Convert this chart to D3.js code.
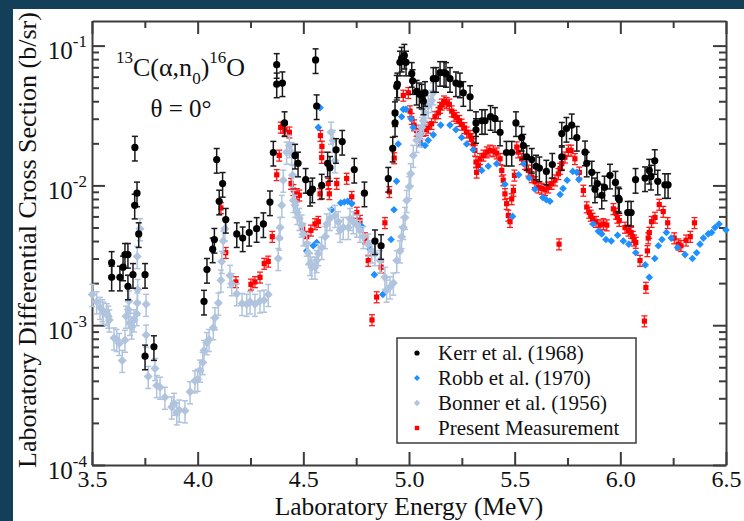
<!DOCTYPE html>
<html>
<head>
<meta charset="utf-8">
<script src="https://cdn.jsdelivr.net/npm/d3@7"></script>
<style>
  html, body { margin: 0; padding: 0; background: #133f58; }
  svg { display: block; }
</style>
</head>
<body>
<svg id="chart" width="744" height="521"></svg>
<script>
// ---- data: [energy (MeV), cross section (b/sr)] ----
const kerrPoints = [[3.593,2.8e-3],[3.593,2.2e-3],[3.632,2.2e-3],[3.647,2.6e-3],[3.656,3.2e-3],[3.670,3.2e-3],[3.670,1.9e-3],[3.694,2.3e-3],[3.702,7.2e-3],[3.703,1.87e-2],
[3.713,8.8e-3],[3.721,4.5e-3],[3.751,2.3e-3],[3.751,6.0e-4],[3.793,7.0e-4],[4.030,1.48e-3],[4.044,2.5e-3],[4.071,3.5e-3],[4.079,4.1e-3],[4.090,1.53e-2],
[4.102,7.7e-3],[4.118,1.03e-2],[4.133,5.7e-3],[4.185,4.5e-3],[4.213,4.2e-3],[4.244,4.6e-3],[4.279,4.9e-3],[4.311,5.3e-3],[4.342,7.6e-3],[4.358,1.72e-2],
[4.374,7.3e-2],[4.374,5.3e-2],[4.401,5.4e-2],[4.411,2.8e-2],[4.461,1.64e-2],[4.475,1.44e-2],[4.511,1.1e-2],[4.532,8.9e-3],[4.543,9.4e-3],[4.558,7.9e-2],
[4.563,3.7e-2],[4.587,1.0e-2],[4.615,1.44e-2],[4.626,1.34e-2],[4.655,1.8e-2],[4.684,2.06e-2],[4.741,1.3e-2],[4.789,8.8e-3],[4.839,4.0e-3],[4.868,3.7e-3],
[4.902,1.12e-2],[4.923,1.84e-2],[4.934,2.8e-2],[4.934,3.3e-2],[4.942,5.1e-2],[4.945,5.3e-2],[4.957,7.6e-2],[4.965,8.1e-2],[4.978,8.5e-2],[4.986,7.6e-2],
[5.013,6.3e-2],[5.017,5.6e-2],[5.036,4.7e-2],[5.049,4.5e-2],[5.060,4.4e-2],[5.068,4.0e-2],[5.076,4.6e-2],[5.115,5.8e-2],[5.128,5.8e-2],[5.147,6.4e-2],
[5.166,6.4e-2],[5.175,6.3e-2],[5.194,5.8e-2],[5.222,5.4e-2],[5.241,5.3e-2],[5.257,4.6e-2],[5.289,4.3e-2],[5.317,2.8e-2],[5.317,2.5e-2],[5.345,2.9e-2],
[5.360,2.9e-2],[5.386,3.1e-2],[5.407,3.0e-2],[5.431,2.4e-2],[5.461,1.72e-2],[5.486,1.72e-2],[5.506,2.8e-2],[5.533,2.2e-2],[5.541,1.93e-2],[5.557,1.6e-2],
[5.581,1.53e-2],[5.601,1.37e-2],[5.617,1.33e-2],[5.650,1.26e-2],[5.678,1.41e-2],[5.723,2.35e-2],[5.723,1.6e-2],[5.745,2.55e-2],[5.770,2.7e-2],[5.794,2.2e-2],
[5.833,1.73e-2],[5.841,1.44e-2],[5.865,1.24e-2],[5.880,9.4e-3],[5.891,1.03e-2],[5.912,8.5e-3],[5.925,9.7e-3],[5.951,1.18e-2],[5.977,1.05e-2],[5.991,8.1e-3],
[5.995,7.9e-3],[6.035,6.4e-3],[6.051,6.4e-3],[6.072,1.1e-2],[6.117,1.13e-2],[6.137,1.28e-2],[6.145,1.16e-2],[6.163,1.5e-2],[6.177,1.07e-2],[6.211,1.01e-2],[6.226,1.01e-2]];

const robbPoints = [[4.516,3.4e-3],[4.547,3.7e-3],[4.563,3.9e-3],[4.571,2.6e-2],[4.579,3.6e-2],[4.634,6.7e-3],[4.677,7.5e-3],[4.694,7.6e-3],[4.710,7.7e-3],[4.729,7.4e-3],
[4.776,5.1e-3],[4.815,3.5e-3],[4.836,2.3e-3],[4.876,1.66e-3],[4.915,4.1e-3],[4.929,6.7e-3],[4.941,1.07e-2],[4.949,1.98e-2],[4.965,3.1e-2],[4.973,3.5e-2],
[4.986,3.5e-2],[5.010,3.0e-2],[5.020,2.6e-2],[5.060,1.96e-2],[5.076,1.93e-2],[5.091,2.1e-2],[5.115,2.3e-2],[5.150,2.7e-2],[5.194,2.7e-2],[5.222,2.5e-2],
[5.249,2.2e-2],[5.273,1.98e-2],[5.304,1.8e-2],[5.344,1.28e-2],[5.375,1.37e-2],[5.415,1.43e-2],[5.454,1.02e-2],[5.490,6.0e-3],[5.519,1.19e-2],[5.543,1.43e-2],
[5.569,1.13e-2],[5.596,9.4e-3],[5.633,8.2e-3],[5.650,7.9e-3],[5.667,7.7e-3],[5.715,8.6e-3],[5.729,9.5e-3],[5.748,1.09e-2],[5.775,1.26e-2],[5.794,1.24e-2],
[5.804,1.1e-2],[5.871,5.3e-3],[5.896,4.7e-3],[5.912,4.5e-3],[5.932,4.1e-3],[5.957,4.0e-3],[5.987,4.4e-3],[6.014,4.0e-3],[6.040,3.8e-3],[6.073,3.3e-3],
[6.118,2.7e-3],[6.137,2.2e-3],[6.163,3.0e-3],[6.180,3.7e-3],[6.197,4.1e-3],[6.218,4.6e-3],[6.241,4.2e-3],[6.271,3.6e-3],[6.306,3.2e-3],[6.341,3.0e-3],
[6.361,3.3e-3],[6.377,3.8e-3],[6.393,4.2e-3],[6.416,4.5e-3],[6.432,4.6e-3],[6.448,5.0e-3],[6.467,5.3e-3],[6.500,4.8e-3]];

const bonnerPoints = [[3.501,1.66e-3],[3.522,1.47e-3],[3.538,1.34e-3],[3.549,1.29e-3],[3.553,1.24e-3],[3.570,1.21e-3],[3.577,1.16e-3],[3.582,1.09e-3],[3.604,8.1e-4],[3.617,7.9e-4],
[3.629,7.4e-4],[3.643,5.6e-4],[3.656,7.8e-4],[3.661,1.16e-3],[3.672,1.29e-3],[3.675,1.49e-3],[3.680,1.03e-3],[3.688,9.7e-4],[3.699,1.09e-3],[3.712,1.21e-3],
[3.714,1.44e-3],[3.716,1.8e-3],[3.714,3.1e-3],[3.727,4.9e-3],[3.756,1.41e-3],[3.756,8.5e-4],[3.766,4.3e-4],[3.798,4.9e-4],[3.806,3.7e-4],[3.822,3.6e-4],
[3.845,3.05e-4],[3.877,2.6e-4],[3.888,2.76e-4],[3.901,2.36e-4],[3.913,2.47e-4],[3.940,2.44e-4],[3.964,3.34e-4],[3.987,4.0e-4],[4.000,4.1e-4],[4.011,4.77e-4],
[4.024,5.4e-4],[4.030,6.6e-4],[4.043,7.5e-4],[4.054,7.9e-4],[4.074,9.6e-4],[4.082,1.13e-3],[4.098,1.44e-3],[4.110,2.1e-3],[4.114,2.86e-3],[4.121,4.0e-3],
[4.129,4.9e-3],[4.153,2.27e-3],[4.161,1.98e-3],[4.185,1.68e-3],[4.210,1.43e-3],[4.232,1.41e-3],[4.248,1.47e-3],[4.271,1.41e-3],[4.295,1.49e-3],[4.314,1.51e-3],
[4.334,1.66e-3],[4.381,3.0e-3],[4.386,4.2e-3],[4.390,5.0e-3],[4.398,7.2e-3],[4.405,1.09e-2],[4.421,1.73e-2],[4.434,1.93e-2],[4.445,1.72e-2],[4.449,1.18e-2],
[4.453,7.8e-3],[4.461,7.2e-3],[4.471,6.4e-3],[4.481,5.8e-3],[4.492,5.2e-3],[4.500,4.5e-3],[4.516,3.8e-3],[4.523,3.3e-3],[4.532,2.76e-3],[4.540,2.6e-3],
[4.555,2.6e-3],[4.563,2.9e-3],[4.571,3.25e-3],[4.587,3.6e-3],[4.603,4.3e-3],[4.611,5.3e-3],[4.626,5.8e-3],[4.631,2.4e-2],[4.640,2.1e-2],[4.650,1.5e-2],
[4.650,6.1e-3],[4.665,5.5e-3],[4.674,4.77e-3],[4.689,5.0e-3],[4.713,5.0e-3],[4.721,5.8e-3],[4.736,5.5e-3],[4.753,5.2e-3],[4.768,4.77e-3],[4.784,4.3e-3],
[4.807,3.8e-3],[4.824,3.4e-3],[4.839,3.25e-3],[4.863,2.9e-3],[4.886,2.2e-3],[4.894,1.78e-3],[4.910,1.88e-3],[4.926,2.0e-3],[4.942,2.9e-3],[4.957,3.4e-3],
[4.965,4.3e-3],[4.973,5.0e-3],[4.981,5.9e-3],[4.989,7.8e-3],[5.001,9.8e-3],[5.008,1.21e-2],[5.020,1.64e-2],[5.036,2.1e-2],[5.052,2.3e-2],[5.060,2.6e-2],
[5.068,2.9e-2],[5.076,3.3e-2],[5.091,3.7e-2],[5.107,4.05e-2],[5.115,4.6e-2]];

const presentPoints = [[4.110,6.9e-3],[4.133,3.3e-3],[4.181,2.04e-3],[4.252,1.96e-3],[4.271,2.04e-3],[4.295,2.2e-3],[4.315,2.76e-3],[4.334,2.86e-3],[4.353,4.3e-3],[4.374,1.19e-2],
[4.386,1.64e-2],[4.393,2.6e-2],[4.404,2.6e-2],[4.413,2.5e-2],[4.434,2.4e-2],[4.442,1.03e-2],[4.453,9.3e-3],[4.469,8.7e-3],[4.481,8.5e-3],[4.497,4.9e-3],
[4.516,4.3e-3],[4.536,4.77e-3],[4.555,5.3e-3],[4.571,5.5e-3],[4.579,8.7e-3],[4.581,2.27e-2],[4.588,1.9e-2],[4.587,1.58e-2],[4.618,1.03e-2],[4.623,8.7e-3],
[4.658,1.03e-2],[4.705,1.12e-2],[4.729,8.3e-3],[4.753,6.4e-3],[4.768,5.6e-3],[4.792,4.2e-3],[4.807,2.9e-3],[4.825,1.09e-3],[4.847,1.59e-3],[4.868,2.6e-3],
[4.886,5.4e-3],[4.907,9.0e-3],[4.930,1.57e-2],[4.973,4.4e-2],[4.997,4.6e-2],[5.005,3.4e-2],[5.013,3.0e-2],[5.024,2.7e-2],[5.036,2.47e-2],[5.044,2.27e-2],
[5.052,2.1e-2],[5.068,2.47e-2],[5.080,2.5e-2],[5.091,2.6e-2],[5.107,2.76e-2],[5.123,3.1e-2],[5.139,3.3e-2],[5.147,3.6e-2],[5.155,3.8e-2],[5.166,4.0e-2],
[5.178,3.9e-2],[5.191,3.8e-2],[5.202,3.4e-2],[5.213,3.16e-2],[5.226,3.05e-2],[5.238,2.9e-2],[5.249,2.73e-2],[5.262,2.58e-2],[5.273,2.4e-2],[5.289,2.27e-2],
[5.297,2.15e-2],[5.304,1.98e-2],[5.312,1.78e-2],[5.317,1.47e-2],[5.320,1.24e-2],[5.328,1.39e-2],[5.336,1.55e-2],[5.352,1.64e-2],[5.368,1.73e-2],[5.383,1.78e-2],
[5.399,1.76e-2],[5.415,1.7e-2],[5.431,1.55e-2],[5.439,1.28e-2],[5.446,1.09e-2],[5.454,8.7e-3],[5.462,7.4e-3],[5.470,6.1e-3],[5.478,5.5e-3],[5.486,8.0e-3],
[5.494,9.2e-3],[5.499,1.18e-2],[5.510,1.88e-2],[5.517,1.73e-2],[5.533,1.55e-2],[5.549,1.43e-2],[5.565,1.28e-2],[5.581,1.15e-2],[5.596,1.06e-2],[5.612,9.7e-3],
[5.628,9.5e-3],[5.644,9.3e-3],[5.659,9.7e-3],[5.675,1.03e-2],[5.691,1.09e-2],[5.707,1.21e-2],[5.710,3.8e-3],[5.715,1.32e-2],[5.723,1.43e-2],[5.738,1.59e-2],
[5.754,1.78e-2],[5.767,1.78e-2],[5.785,1.55e-2],[5.806,1.24e-2],[5.825,9.2e-3],[5.841,7.0e-3],[5.853,6.4e-3],[5.860,6.1e-3],[5.869,5.8e-3],[5.885,5.5e-3],
[5.904,5.2e-3],[5.920,5.3e-3],[5.936,5.2e-3],[5.967,6.8e-3],[5.980,6.3e-3],[5.986,5.9e-3],[5.995,5.6e-3],[6.022,5.0e-3],[6.038,4.77e-3],[6.051,4.6e-3],
[6.059,4.3e-3],[6.065,4.05e-3],[6.073,3.9e-3],[6.093,2.9e-3],[6.114,1.07e-3],[6.121,1.86e-3],[6.128,3.4e-3],[6.132,4.2e-3],[6.137,4.6e-3],[6.148,5.5e-3],
[6.164,5.9e-3],[6.184,7.3e-3],[6.203,6.5e-3],[6.224,5.4e-3],[6.255,4.2e-3],[6.274,3.8e-3],[6.287,3.7e-3],[6.311,4.05e-3],[6.331,4.3e-3],[6.351,5.4e-3]];

// fractional uncertainties shown as error bars
const kerrRelErr = 0.2;
const bonnerRelErr = 0.18;
const presentRelErr = 0.09;

const seriesNames = ["Kerr et al. (1968)", "Robb et al. (1970)", "Bonner et al. (1956)", "Present Measurement"];

// axis ticks
const xMajorTicks = [3.5, 4.0, 4.5, 5.0, 5.5, 6.0, 6.5];
const xTickLabels = ["3.5", "4.0", "4.5", "5.0", "5.5", "6.0", "6.5"];
const xMinorTicks = [3.75, 4.25, 4.75, 5.25, 5.75, 6.25];
const yDecadeExponents = [-4, -3, -2, -1];

// ---- layout ----
const W = 744, H = 521;
const plot = { left: 92, right: 726, top: 21, bottom: 465 };
const serif = "'Liberation Serif', 'Times New Roman', Times, serif";
const axisColor = "#3c3c3c";

const svg = d3.select("#chart");

// slide backdrop and white panel
svg.append("rect").attr("width", W).attr("height", H).attr("fill", "#133f58");
svg.append("rect").attr("x", 13).attr("y", 9).attr("width", W - 13).attr("height", H - 9).attr("fill", "#ffffff");

const x = d3.scaleLinear().domain([3.5, 6.5]).range([plot.left, plot.right]);
const y = d3.scaleLog().domain([1e-4, 0.15]).range([plot.bottom, plot.top]);

const yMajorTicks = yDecadeExponents.map(e => Math.pow(10, e));
const yMinorTicks = [];
yDecadeExponents.forEach(e => {
  for (let m = 2; m <= 9; m++) {
    const v = m * Math.pow(10, e);
    if (v < y.domain()[1]) yMinorTicks.push(v);
  }
});

function styleAxis(g, keepDomain) {
  g.selectAll("line").attr("stroke", axisColor).attr("stroke-width", 2);
  if (keepDomain) g.select(".domain").attr("stroke", axisColor).attr("stroke-width", 2);
  else g.select(".domain").remove();
}

// bottom axis with labels
const gBottom = svg.append("g").attr("transform", `translate(0,${plot.bottom})`)
  .call(d3.axisBottom(x).tickValues(xMajorTicks).tickSizeInner(-13).tickSizeOuter(0)
    .tickPadding(5).tickFormat((d, i) => xTickLabels[i]));
styleAxis(gBottom, true);
gBottom.selectAll("text").attr("font-family", serif).attr("font-size", 24).attr("fill", "#111");

svg.append("g").attr("transform", `translate(0,${plot.bottom})`)
  .call(d3.axisBottom(x).tickValues(xMinorTicks).tickSize(-7).tickFormat(""))
  .call(g => styleAxis(g, false));

// top axis (ticks only)
svg.append("g").attr("transform", `translate(0,${plot.top})`)
  .call(d3.axisTop(x).tickValues(xMajorTicks).tickSizeInner(-13).tickSizeOuter(0).tickFormat(""))
  .call(g => styleAxis(g, true));
svg.append("g").attr("transform", `translate(0,${plot.top})`)
  .call(d3.axisTop(x).tickValues(xMinorTicks).tickSize(-7).tickFormat(""))
  .call(g => styleAxis(g, false));

// left axis with power-of-ten labels
const gLeft = svg.append("g").attr("transform", `translate(${plot.left},0)`)
  .call(d3.axisLeft(y).tickValues(yMajorTicks).tickSizeInner(-13).tickSizeOuter(0).tickFormat(""));
styleAxis(gLeft, true);
gLeft.selectAll(".tick").each(function (d, i) {
  const t = d3.select(this).select("text");
  t.text(null).attr("x", -5).attr("dy", null).attr("y", 13)
    .attr("text-anchor", "end").attr("font-family", serif).attr("fill", "#111");
  t.append("tspan").attr("font-size", 25).text("10");
  t.append("tspan").attr("font-size", 17).attr("dy", -12).text(String(yDecadeExponents[i]));
});
svg.append("g").attr("transform", `translate(${plot.left},0)`)
  .call(d3.axisLeft(y).tickValues(yMinorTicks).tickSize(-7).tickFormat(""))
  .call(g => styleAxis(g, false));

// right axis (ticks only)
svg.append("g").attr("transform", `translate(${plot.right},0)`)
  .call(d3.axisRight(y).tickValues(yMajorTicks).tickSizeInner(-13).tickSizeOuter(0).tickFormat(""))
  .call(g => styleAxis(g, true));
svg.append("g").attr("transform", `translate(${plot.right},0)`)
  .call(d3.axisRight(y).tickValues(yMinorTicks).tickSize(-7).tickFormat(""))
  .call(g => styleAxis(g, false));

// axis titles
svg.append("text").attr("x", (plot.left + plot.right) / 2).attr("y", 515)
  .attr("text-anchor", "middle").attr("font-family", serif).attr("font-size", 25.5).attr("fill", "#111")
  .text("Laboratory Energy (MeV)");
svg.append("text").attr("transform", `translate(36,240) rotate(-90)`)
  .attr("text-anchor", "middle").attr("font-family", serif).attr("font-size", 26).attr("fill", "#111")
  .text("Laboratory Differential Cross Section (b/sr)");

// reaction label
const reaction = svg.append("text").attr("font-family", serif).attr("fill", "#111").attr("x", 116).attr("y", 76);
[["13", 17, 63], ["C(\u03b1,n", 26, 76], ["0", 17, 84], [")", 26, 76], ["16", 17, 63], ["O", 26, 76]]
  .forEach(([s, fs, yy]) => reaction.append("tspan").attr("font-size", fs).attr("y", yy).text(s));
svg.append("text").attr("x", 181).attr("y", 117).attr("text-anchor", "middle")
  .attr("font-family", serif).attr("font-size", 25).attr("fill", "#111").text("\u03b8 = 0\u00b0");

// ---- data marks ----
const marks = svg.append("g");

function errorBars(points, rel, color, halfCap, width) {
  const g = marks.append("g").attr("stroke", color).attr("stroke-width", width).attr("fill", "none");
  points.forEach(([e, s]) => {
    const cx = x(e), y1 = y(s * (1 + rel)), y2 = y(s * (1 - rel));
    g.append("line").attr("x1", cx).attr("x2", cx).attr("y1", y1).attr("y2", y2);
    g.append("line").attr("x1", cx - halfCap).attr("x2", cx + halfCap).attr("y1", y1).attr("y2", y1);
    g.append("line").attr("x1", cx - halfCap).attr("x2", cx + halfCap).attr("y1", y2).attr("y2", y2);
  });
}

function diamondPath(cx, cy, r) {
  return `M${cx},${cy - r}L${cx + r},${cy}L${cx},${cy + r}L${cx - r},${cy}Z`;
}

// Present measurement (red squares)
errorBars(presentPoints, presentRelErr, "#ff1a1a", 3, 1.3);
marks.append("g").selectAll("rect").data(presentPoints).join("rect")
  .attr("x", d => x(d[0]) - 2.6).attr("y", d => y(d[1]) - 2.6)
  .attr("width", 5.2).attr("height", 5.2).attr("fill", "#ff0000");

// Robb et al. (blue diamonds)
marks.append("g").selectAll("path").data(robbPoints).join("path")
  .attr("d", d => diamondPath(x(d[0]), y(d[1]), 3.8)).attr("fill", "#1e90ff");

// Bonner et al. (light diamonds)
errorBars(bonnerPoints, bonnerRelErr, "#b0c4de", 3, 1.5);
marks.append("g").selectAll("path").data(bonnerPoints).join("path")
  .attr("d", d => diamondPath(x(d[0]), y(d[1]), 4.5)).attr("fill", "#b0c4de");

// Kerr et al. (black circles)
errorBars(kerrPoints, kerrRelErr, "#1a1a1a", 3, 1.5);
marks.append("g").selectAll("circle").data(kerrPoints).join("circle")
  .attr("cx", d => x(d[0])).attr("cy", d => y(d[1])).attr("r", 3.6).attr("fill", "#000");

// ---- legend ----
const legend = svg.append("g").attr("transform", "translate(397,338)");
legend.append("rect").attr("width", 239).attr("height", 105).attr("fill", "#fff")
  .attr("stroke", "#3c3c3c").attr("stroke-width", 1.5);
const legendSymbols = [
  (g, cx, cy) => g.append("circle").attr("cx", cx).attr("cy", cy).attr("r", 2.6).attr("fill", "#000"),
  (g, cx, cy) => g.append("path").attr("d", diamondPath(cx, cy, 3)).attr("fill", "#1e90ff"),
  (g, cx, cy) => g.append("path").attr("d", diamondPath(cx, cy, 3.2)).attr("fill", "#b0c4de"),
  (g, cx, cy) => g.append("rect").attr("x", cx - 2.2).attr("y", cy - 2.2).attr("width", 4.4).attr("height", 4.4).attr("fill", "#ff0000")
];
seriesNames.forEach((name, i) => {
  const cy = 15 + i * 25;
  legendSymbols[i](legend, 20, cy);
  legend.append("text").attr("x", 41).attr("y", cy + 7).attr("font-family", serif)
    .attr("font-size", 21).attr("fill", "#111").text(name);
});
</script>
</body>
</html>
